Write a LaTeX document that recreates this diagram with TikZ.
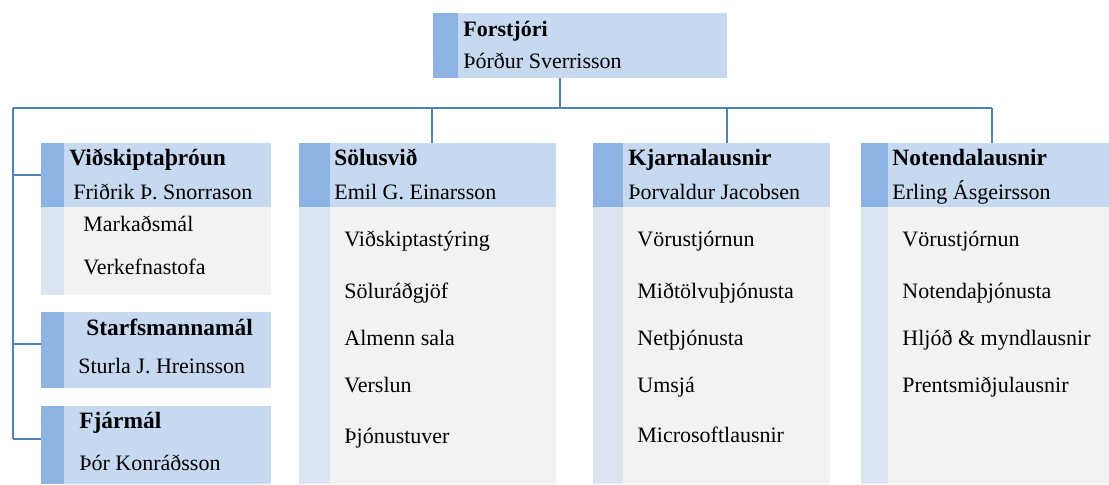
\documentclass[tikz,border=0pt]{standalone}
\usepackage{fontspec}
\setmainfont{Liberation Serif}
\usetikzlibrary{positioning,calc}
\definecolor{hdr}{HTML}{C6D9F1}
\definecolor{hdrstrip}{HTML}{8DB3E2}
\definecolor{bdy}{HTML}{F2F2F2}
\definecolor{bdystrip}{HTML}{DBE5F1}
\definecolor{wire}{HTML}{4F81BD}
\tikzset{
  sized/.style 2 args={minimum width={#1*.5pt},minimum height={#2*.5pt}},
  head/.style={fill=hdr,anchor=north west,inner sep=0pt,outer sep=0pt},
  body/.style={fill=bdy,anchor=north west,inner sep=0pt,outer sep=0pt},
  txt/.style={anchor=base west,inner sep=0pt,font=\fontsize{11}{13}\selectfont},
  ttl/.style={txt,font=\fontsize{11.7}{14}\selectfont\bfseries},
  wire/.style={draw=wire,line width=1.2pt}
}
\newcommand*{\strip}[3]{\fill[#1] (#2.north west) rectangle ($(#2.south west)+(#3,0)$);}

\begin{document}
\begin{tikzpicture}[x=.5pt,y=-.5pt]
\useasboundingbox (0,0) rectangle (1109,484);
% boxes
\node[head,sized={294}{65}] (top) at (433,13) {};
\node[head,sized={230}{64}] (vid) at (41,143) {};
\node[body,sized={230}{88}] (vidb) at (41,207) {};
\node[head,sized={230}{76}] (starf) at (41,312) {};
\node[head,sized={230}{78}] (fjar) at (41,406) {};
\node[head,sized={257}{64}] (sol) at (299,143) {};
\node[body,sized={257}{277}] (solb) at (299,207) {};
\node[head,sized={237}{64}] (kjarn) at (593,143) {};
\node[body,sized={237}{277}] (kjarnb) at (593,207) {};
\node[head,sized={248}{64}] (note) at (861,143) {};
\node[body,sized={248}{277}] (noteb) at (861,207) {};
\strip{hdrstrip}{top}{25}
\strip{hdrstrip}{vid}{23}
\strip{bdystrip}{vidb}{23}
\strip{hdrstrip}{starf}{23}
\strip{hdrstrip}{fjar}{23}
\strip{hdrstrip}{sol}{31}
\strip{bdystrip}{solb}{31}
\strip{hdrstrip}{kjarn}{30}
\strip{bdystrip}{kjarnb}{30}
\strip{hdrstrip}{note}{27}
\strip{bdystrip}{noteb}{27}

% texts
\node[ttl,font=\fontsize{11}{13}\selectfont\bfseries] (topt) at (463,36) {Forstjóri};
\node[txt] (topn) at (463,68) {Þórður Sverrisson};
\node[ttl] (vidt) at (69,165) {Viðskiptaþróun};
\node[txt] (vidn) at (73,199) {Friðrik Þ. Snorrason};
\node[txt] (vid1) at (83,231) {Markaðsmál};
\node[txt] (vid2) at (83,274) {Verkefnastofa};
\node[ttl] (starft) at (86,335) {Starfsmannamál};
\node[txt] (starfn) at (78,373) {Sturla J. Hreinsson};
\node[ttl] (fjart) at (79,428) {Fjármál};
\node[txt] (fjarn) at (79,470) {Þór Konráðsson};
\node[ttl] (solt) at (334,165) {Sölusvið};
\node[txt] (soln) at (334,199) {Emil G. Einarsson};
\node[txt] (sol1) at (344,246) {Viðskiptastýring};
\node[txt] (sol2) at (344,298) {Söluráðgjöf};
\node[txt] (sol3) at (344,345) {Almenn sala};
\node[txt] (sol4) at (344,392) {Verslun};
\node[txt] (sol5) at (344,443) {Þjónustuver};
\node[ttl] (kjarnt) at (628,165) {Kjarnalausnir};
\node[txt] (kjarnn) at (628,199) {Þorvaldur Jacobsen};
\node[txt] (kjarn1) at (637,246) {Vörustjórnun};
\node[txt] (kjarn2) at (637,298) {Miðtölvuþjónusta};
\node[txt] (kjarn3) at (637,345) {Netþjónusta};
\node[txt] (kjarn4) at (637,392) {Umsjá};
\node[txt] (kjarn5) at (637,442) {Microsoftlausnir};
\node[ttl] (notet) at (892,165) {Notendalausnir};
\node[txt] (noten) at (892,199) {Erling Ásgeirsson};
\node[txt] (note1) at (902,246) {Vörustjórnun};
\node[txt] (note2) at (902,298) {Notendaþjónusta};
\node[txt] (note3) at (902,345) {Hljóð \& myndlausnir};
\node[txt] (note4) at (902,392) {Prentsmiðjulausnir};

% connectors
\coordinate (j0) at (560,108);
\coordinate (jl) at (13,108);
\coordinate (jr) at (992,108);
\coordinate (d1) at (432,108);
\coordinate (d2) at (727,108);
\coordinate (l1) at (13,175);
\coordinate (l2) at (13,344);
\coordinate (l3) at (13,439);
\draw[wire] (top.south -| j0) -- (j0);
\draw[wire] (jl) -- (jr);
\draw[wire] (d1) -- (d1 |- sol.north);
\draw[wire] (d2) -- (d2 |- kjarn.north);
\draw[wire] (jr) -- (jr |- note.north);
\draw[wire] (jl) -- (l3);
\draw[wire] (l1) -- (l1 -| vid.west);
\draw[wire] (l2) -- (l2 -| starf.west);
\draw[wire] (l3) -- (l3 -| fjar.west);
\end{tikzpicture}
\end{document}
